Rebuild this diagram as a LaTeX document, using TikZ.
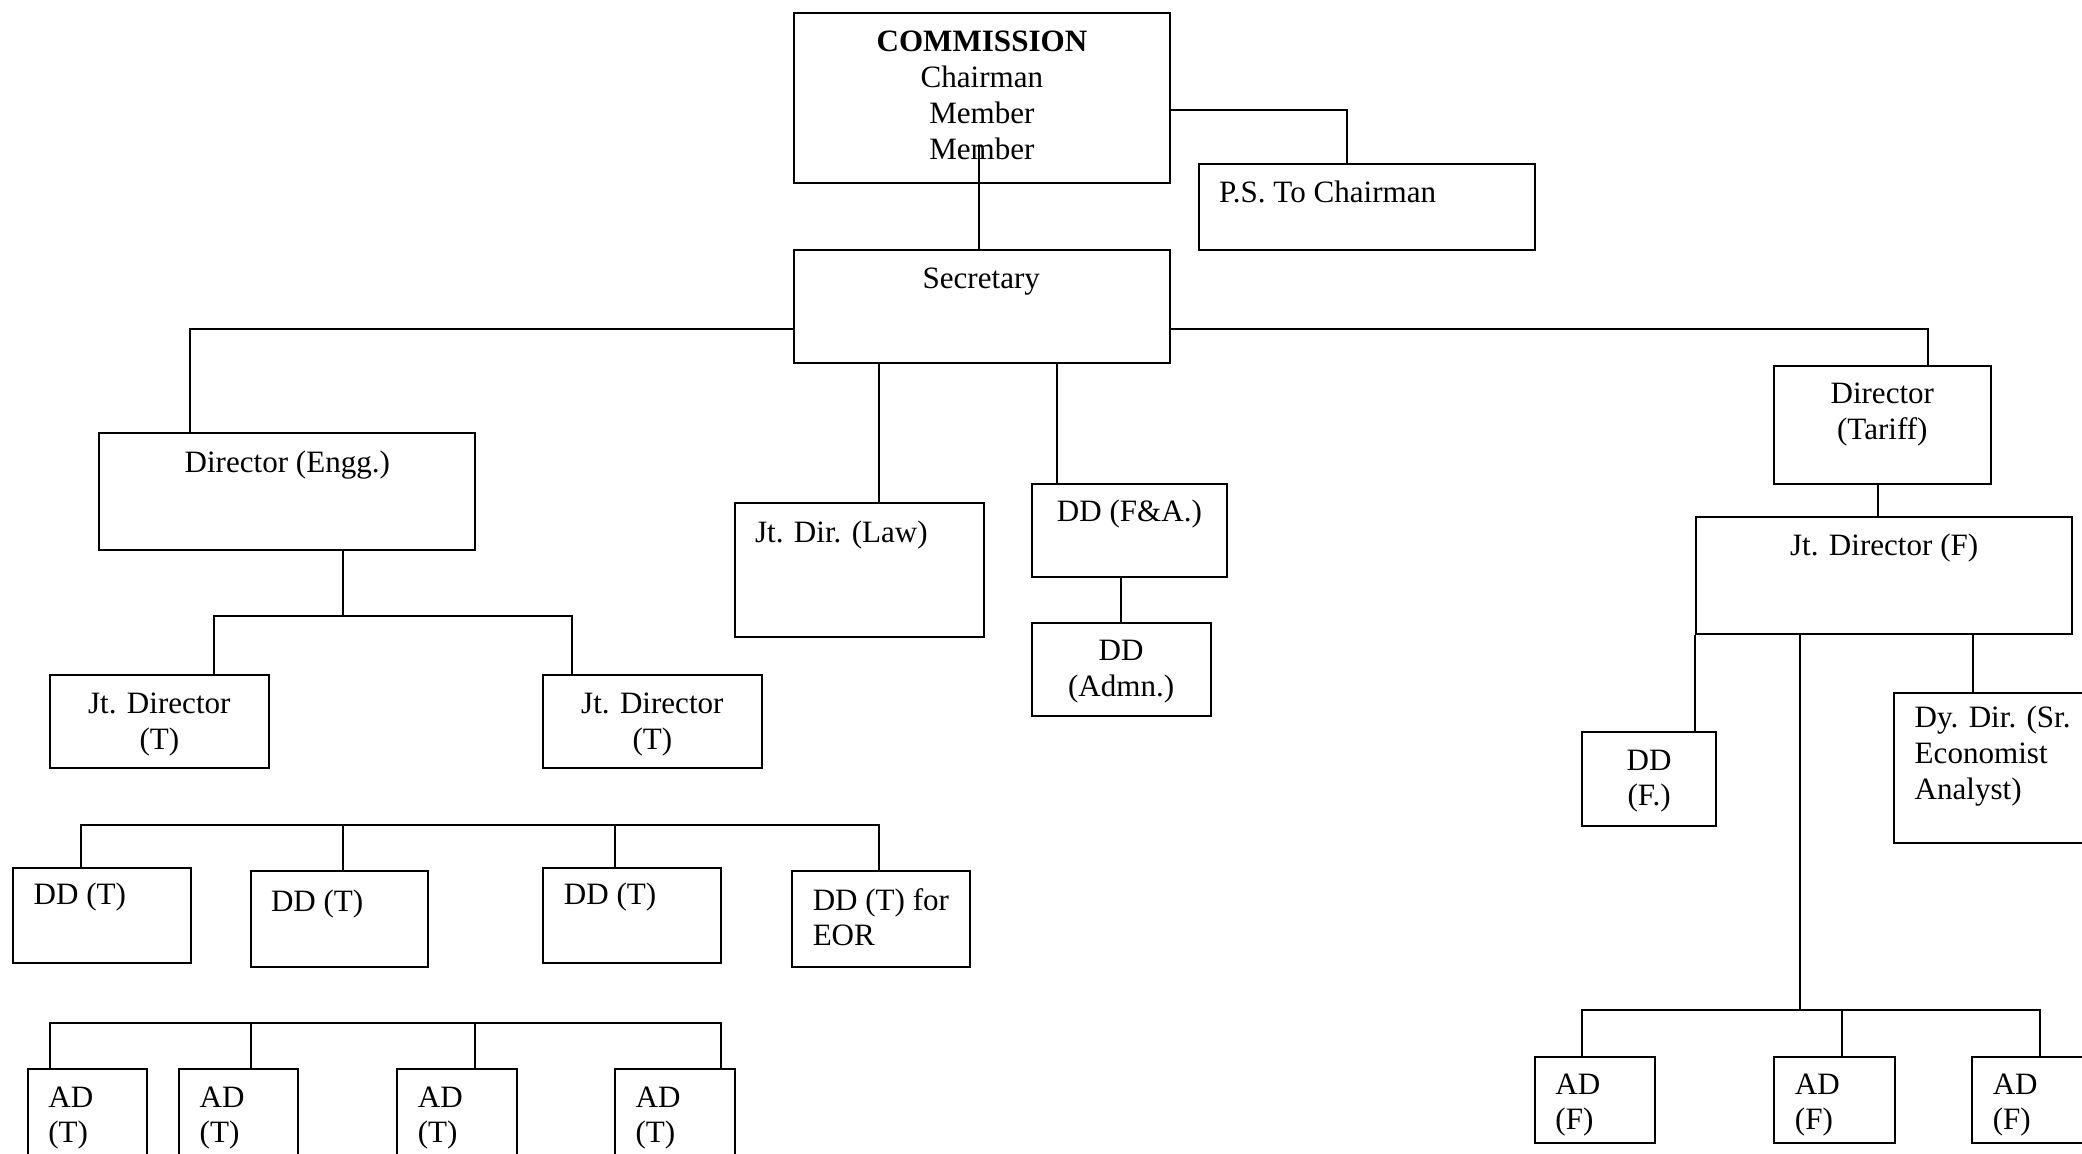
\documentclass[tikz,border=0pt]{standalone}
\usepackage{fontspec}
\setmainfont{Liberation Serif}
\usepackage{tikz}
\usetikzlibrary{fit}

\newcommand{\cstack}[1]{\begin{tabular}[t]{@{}c@{}}#1\end{tabular}}
\newcommand{\lstack}[1]{\begin{tabular}[t]{@{}l@{}}#1\end{tabular}}

\begin{document}
\begin{tikzpicture}[x=0.5pt,y=-0.5pt,
  box/.style={draw, inner sep=0pt, line width=0.75pt},
  txt/.style={inner sep=0pt, anchor=base, font=\fontsize{11.7pt}{13.5pt}\selectfont},
  ltxt/.style={txt, anchor=base west},
  link/.style={line width=0.75pt}]
\useasboundingbox (0,0) rectangle (1568,869);

% boxes
\node[box, fit={(598,10) (881,138)}] (com) {};
\node[box, fit={(903,123.6) (1156,188.4)}] (ps) {};
\node[box, fit={(598,188.4) (881,273.5)}] (sec) {};
\node[box, fit={(74.7,326.2) (358,414.3)}] (deng) {};
\node[box, fit={(553.3,378.8) (741,479.5)}] (law) {};
\node[box, fit={(777,364.4) (924.3,434.6)}] (fa) {};
\node[box, fit={(777,468.9) (911.7,539.3)}] (admn) {};
\node[box, fit={(1336,275.8) (1499.3,364.5)}] (dtar) {};
\node[box, fit={(1277.3,389.4) (1560.7,477.5)}] (jdf) {};
\node[box, fit={(37.7,508) (202.3,578.4)}] (jdt1) {};
\node[box, fit={(409,508) (573.7,578.4)}] (jdt2) {};
\node[box, fit={(9.7,653.5) (143.7,725.6)}] (ddt1) {};
\node[box, fit={(189,656.3) (322.3,728.3)}] (ddt2) {};
\node[box, fit={(409,653.5) (542.7,725.6)}] (ddt3) {};
\node[box, fit={(596.3,656.3) (730.3,728.3)}] (eor) {};
\node[box, fit={(21,805.1) (111,900)}] (adt1) {};
\node[box, fit={(134.7,805.1) (224.7,900)}] (adt2) {};
\node[box, fit={(299,805.1) (389,900)}] (adt3) {};
\node[box, fit={(463,805.1) (553.7,900)}] (adt4) {};
\node[box, fit={(1191.4,551) (1292.4,621.9)}] (ddf) {};
\node[box, fit={(1426.7,521.6) (1590,635.2)}] (dyd) {};
\node[box, fit={(1155.7,795.7) (1246.4,860.8)}] (adf1) {};
\node[box, fit={(1336,795.7) (1427,860.8)}] (adf2) {};
\node[box, fit={(1485.3,795.7) (1590,860.8)}] (adf3) {};

% texts
\node[txt] (comtxt) at (739.5,38.8) {\cstack{\textbf{COMMISSION}\\Chairman\\Member\\Member}};
\node[ltxt] (pstxt) at (917.7,152.4) {P.S. To Chairman};
\node[txt] (sectxt) at (739,217.6) {Secretary};
\node[txt] (dengtxt) at (216.4,356.1) {Director (Engg.)};
\node[ltxt] (lawtxt) at (568.3,408.8) {Jt. Dir. (Law)};
\node[txt] (fatxt) at (850.6,393) {DD (F\&A.)};
\node[txt] (admntxt) at (844.3,497.7) {\cstack{DD\\(Admn.)}};
\node[txt] (dtartxt) at (1417.6,304) {\cstack{Director\\(Tariff)}};
\node[txt] (jdftxt) at (1419,418.5) {Jt. Director (F)};
\node[txt] (jdt1txt) at (120,537.1) {\cstack{Jt. Director\\(T)}};
\node[txt] (jdt2txt) at (491.3,537.1) {\cstack{Jt. Director\\(T)}};
\node[ltxt] (ddt1txt) at (25,681.2) {DD (T)};
\node[ltxt] (ddt2txt) at (203.7,686.8) {DD (T)};
\node[ltxt] (ddt3txt) at (424.3,681.2) {DD (T)};
\node[ltxt] (eortxt) at (611.7,685.4) {\lstack{DD (T) for\\EOR}};
\node[ltxt] (adt1txt) at (36,833.7) {\lstack{AD\\(T)}};
\node[ltxt] (adt2txt) at (150,833.7) {\lstack{AD\\(T)}};
\node[ltxt] (adt3txt) at (314.3,833.7) {\lstack{AD\\(T)}};
\node[ltxt] (adt4txt) at (478.3,833.7) {\lstack{AD\\(T)}};
\node[txt] (ddftxt) at (1242,580) {\cstack{DD\\(F.)}};
\node[ltxt] (dydtxt) at (1441.6,548.2) {\lstack{Dy. Dir. (Sr.\\Economist\\Analyst)}};
\node[ltxt] (adf1txt) at (1171,824) {\lstack{AD\\(F)}};
\node[ltxt] (adf2txt) at (1351.4,824) {\lstack{AD\\(F)}};
\node[ltxt] (adf3txt) at (1500.4,824) {\lstack{AD\\(F)}};

% connectors
\coordinate (comtap) at (737.3,109.5);
\coordinate (engbus) at (258.3,463.6);
\coordinate (ddbus) at (258.3,621.6);
\coordinate (adbus) at (189,770.8);
\coordinate (fbus) at (1355.7,761);

\draw[link] (comtap) -- (comtap |- sec.north);
\draw[link] (com.east |- 0,82.6) -| (ps.north -| 1014.7,0);
\draw[link] (sec.west |- 0,247.5) -| (deng.north -| 143.3,0);
\draw[link] (sec.east |- 0,247.5) -| (dtar.north -| 1452,0);
\draw[link] (sec.south -| 661.7,0) -- (law.north -| 661.7,0);
\draw[link] (sec.south -| 796.3,0) -- (fa.north -| 796.3,0);
\draw[link] (fa.south -| admn.north) -- (admn.north);

\draw[link] (deng.south -| engbus) -- (engbus);
\draw[link] (jdt1.north -| 161,0) |- (engbus) -| (jdt2.north -| 430.7,0);

\draw[link] (ddt1.north -| 61,0) |- (ddbus) -| (eor.north -| 661.7,0);
\draw[link] (ddt2.north -| ddbus) -- (ddbus);
\draw[link] (ddt3.north -| 463,0) -- (ddbus -| 463,0);

\draw[link] (adt1.north -| 37.7,0) |- (adbus) -| (adt4.north -| 542.7,0);
\draw[link] (adt2.north -| adbus) -- (adbus);
\draw[link] (adt3.north -| 357.7,0) -- (adbus -| 357.7,0);

\draw[link] (dtar.south -| 1414.4,0) -- (jdf.north -| 1414.4,0);
\draw[link] (jdf.south west) -- (jdf.south west |- ddf.north);
\draw[link] (jdf.south -| 1485.7,0) -- (dyd.north -| 1485.7,0);
\draw[link] (jdf.south -| fbus) -- (fbus);
\draw[link] (adf1.north -| 1191.4,0) |- (fbus) -| (adf3.north -| 1536,0);
\draw[link] (adf2.north -| 1387.3,0) -- (fbus -| 1387.3,0);
\end{tikzpicture}
\end{document}
